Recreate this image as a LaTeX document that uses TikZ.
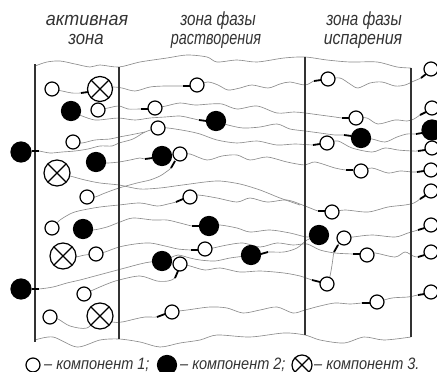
\documentclass[tikz,border=0pt]{standalone}
\usepackage{fontspec}
\setmainfont{Liberation Sans}
\begin{document}
\begin{tikzpicture}[x=1pt,y=-1pt,
  traj/.style={draw=black!45, line width=0.65pt},
  wall/.style={draw=black!80, line width=1.2pt},
  circ/.style={draw=black, line width=1.2pt},
  tick/.style={draw=black, line width=1.8pt},
  lbl/.style={font=\fontsize{19}{21}\selectfont\itshape, text=black!80, xscale=0.8, inner sep=0pt, anchor=base},
  lgd/.style={font=\fontsize{16.5}{18}\selectfont\itshape, text=black!80, xscale=0.88, inner sep=0pt, anchor=base west}]
\useasboundingbox (0,0) rectangle (437,372);

% boundaries
\draw[traj] plot[smooth] coordinates {(35,66) (47,62) (60,61) (75,64) (90,67) (100,65) (119,67) (140,62) (167,58) (187,55) (207,57) (217,62) (237,60) (257,62) (284,58) (305,57) (327,60) (350,62) (377,62) (397,67) (411,68)};
\draw[traj] plot[smooth] coordinates {(35,340) (53,337) (77,347) (100,340) (119,339) (140,342) (160,347) (180,343) (200,340) (217,335) (250,337) (284,333) (305,335) (320,340) (344,343) (364,337) (384,340) (411,337)};

% trajectories
\draw[traj] plot[smooth] coordinates {(52,89) (62,91) (72,93) (81,93) (88,92) (100,89) (113,87) (122,88) (135,91) (150,87) (165,86) (183,86) (190,86) (197,85) (208,82) (218,85) (228,90) (240,88) (252,85) (268,88) (280,84) (290,82) (305,85) (314,81) (321,80) (328,79) (340,78) (350,84) (358,88) (370,83) (382,82) (395,86) (405,85) (414,81) (421,78) (426,74) (431,69)};
\draw[traj] plot[smooth] coordinates {(98,110) (108,108) (119,106) (128,109) (141,109) (148,109) (155,108) (166,106) (180,103) (195,105) (210,104) (222,104) (237,109) (257,106) (277,113) (294,112) (305,113) (320,115) (335,117) (342,118) (349,118) (356,118) (367,118) (378,124) (395,120) (407,121) (414,119) (420,115) (426,112) (432,108)};
\draw[traj] plot[smooth] coordinates {(71,111) (82,116) (95,120) (108,119) (119,118) (135,120) (150,118) (165,117) (180,116) (190,118) (199,120) (206,121) (216,121) (228,125) (243,128) (260,127) (277,124) (290,129) (305,131) (320,133) (335,135) (344,135) (351,136) (361,138) (372,139) (385,142) (397,137) (407,134) (416,134) (422,133) (432,130)};
\draw[traj] plot[smooth] coordinates {(21,152) (32,151) (39,151) (50,153) (62,152) (75,151) (88,149) (100,146) (112,146) (119,143) (133,139) (145,132) (158,128) (168,128) (187,131) (200,134) (217,140) (237,143) (257,141) (277,145) (295,144) (313,145) (320,144) (327,143) (338,141) (352,148) (372,152) (385,148) (398,150) (412,151) (418,151) (425,150) (432,148)};
\draw[traj] plot[smooth] coordinates {(73,142) (82,143) (95,140) (110,139) (119,137) (130,135) (145,132)};
\draw[traj] plot[smooth] coordinates {(96,162) (107,163) (119,162) (130,160) (140,158) (145,159) (152,158) (162,156) (180,154) (190,154) (207,160) (222,156) (237,155) (250,160) (267,157) (287,162) (305,165) (315,162) (335,168) (346,170) (353,170) (361,171) (372,168) (388,173) (400,171) (412,172) (417,172) (424,171) (431,170)};
\draw[traj] plot[smooth] coordinates {(87,197) (95,197) (105,193) (119,188) (137,183) (150,180) (160,176) (166,172) (171,168) (175,161)};
\draw[traj] plot[smooth] coordinates {(57,173) (70,176) (85,180) (100,183) (119,185) (140,189) (160,188) (175,186) (190,184) (205,182) (220,181) (240,184) (260,190) (280,198) (300,205)};
\draw[traj] plot[smooth] coordinates {(52,228) (60,220) (72,213) (83,210) (100,207) (119,205) (140,203) (157,206) (168,204) (176,202) (183,199) (190,197) (198,195) (217,198) (237,202) (250,198) (267,202) (287,200) (305,206) (318,211) (325,211) (332,212) (345,210) (368,212) (388,207) (405,205) (414,203) (420,199) (425.5,195.5) (431,191)};
\draw[traj] plot[smooth] coordinates {(83,229) (93,230) (107,227) (120,222) (133,218) (153,220) (167,220) (180,223) (192,226) (199.5,226) (209,226) (220,225) (237,228) (250,232) (270,230) (290,233) (307,237) (319,235)};
\draw[traj] plot[smooth] coordinates {(63,256) (75,257) (85,255) (96,254) (105,252) (119,247) (135,244) (150,243) (165,246) (178,249) (191,250) (198,250) (205,249) (213,248) (227,245) (243,243) (260,247) (277,243) (293,245) (307,244) (320,250) (335,253) (353,254) (360,254) (367,255) (375,253) (395,257) (405,252) (413,256) (418,257) (424.5,255) (431,252)};
\draw[traj] plot[smooth] coordinates {(21,289) (32,289) (39,289) (53,287) (67,283) (80,280) (95,276) (110,272) (125,268) (140,264) (150,262) (162,261) (170,258) (178,255) (190,258) (200,260) (215,261) (230,258) (245,256) (251,255) (261,254) (268,252) (284,252) (297,248) (307,240) (319,235)};
\draw[traj] plot[smooth] coordinates {(84,294) (93,290) (107,284) (119,280) (140,276) (157,281) (168,281) (175,278) (178,271) (180,264) (190,266) (205,270) (220,268) (240,272) (260,271) (284,273) (300,276) (312,280) (320,282) (327,284)};
\draw[traj] plot[smooth] coordinates {(327,284) (330,276) (332,265) (333,258) (334,252) (338,245) (344,238) (353,237) (372,235) (395,237) (408,233) (418,230) (424.5,228) (431,225)};
\draw[traj] plot[smooth] coordinates {(50,317) (58,319) (70,326) (87,328) (100,316) (112,322) (122,322) (135,319) (145,317) (157,317) (165,314) (172,312) (187,310) (210,307) (227,308) (243,313) (260,310) (277,307) (293,313) (305,310) (320,306) (335,303) (350,304) (362,303) (370,303) (377,302) (392,298) (408,297) (418,295) (424.5,294) (431,292)};

% walls
\draw[wall] (35,64) -- (35,342);
\draw[wall] (119,67) -- (119,339);
\draw[wall] (305,57) -- (305,335);
\draw[wall] (411,68) -- (411,337);

% open particles (component 1)
\foreach \x/\y in {52/89, 98/110, 73/142, 87/197, 52/228, 96/254, 84/294, 50/317,
  197/85, 155/108, 158/128, 180/154, 190/197, 205/249, 180/264, 172/312,
  328/79, 356/118, 327/143, 361/171, 332/212, 344/238, 367/255, 327/284, 377/302,
  431/69, 432/108, 432/148, 431/170, 431/191, 431/225, 431/252, 431/292, 33/365}
  \draw[circ, fill=white] (\x,\y) circle (7pt);
% black particles (component 2)
\foreach \x/\y in {71/111, 96/162, 83/229, 216/121, 162/156, 209/226, 162/261, 251/255, 361/138, 319/235, 167/365}
  \draw[circ, fill=black] (\x,\y) circle (9.5pt);
\foreach \x/\y in {21/152, 21/289, 432/130}
  \draw[circ, fill=black] (\x,\y) circle (10pt);
% crossed particles (component 3)
\foreach \x/\y/\r in {100/89/12.5, 57/173/13, 63/256/13, 100/316/13, 302/365/10}{
  \draw[circ, fill=white] (\x,\y) circle (\r pt);
  \draw[circ] (\x,\y) +(45:\r pt) -- +(225:\r pt);
  \draw[circ] (\x,\y) +(135:\r pt) -- +(-45:\r pt);
}

% ticks
\draw[tick] (81,93) -- (88,92);
\draw[tick] (183,86) -- (190,86);
\draw[tick] (314,81) -- (321,80);
\draw[tick] (421,78) -- (426,74);
\draw[tick] (141,109) -- (148,109);
\draw[tick] (342,118) -- (349,118);
\draw[tick] (420,115) -- (426,112);
\draw[tick] (199,120) -- (206.5,121);
\draw[tick] (344,135) -- (351.5,136);
\draw[tick] (416,134) -- (422,133);
\draw[tick] (32,151) -- (39,151);
\draw[tick] (313,145) -- (320,144);
\draw[tick] (418,151) -- (425,150);
\draw[tick] (145,159) -- (152.5,158);
\draw[tick] (346,170) -- (353,170);
\draw[tick] (417,172) -- (424,171);
\draw[tick] (171,168) -- (175,161);
\draw[tick] (176,202) -- (183,199);
\draw[tick] (318,211) -- (325,211);
\draw[tick] (420,199) -- (425.5,195.5);
\draw[tick] (192,226) -- (199.5,226);
\draw[tick] (191,250) -- (198,250);
\draw[tick] (353,254) -- (360,254);
\draw[tick] (418,257) -- (424.5,255);
\draw[tick] (32,289) -- (39,289);
\draw[tick] (261,254) -- (268,252);
\draw[tick] (175,278) -- (178,271);
\draw[tick] (312,280) -- (320,282);
\draw[tick] (334,252) -- (338,245);
\draw[tick] (418,230) -- (424.5,228);
\draw[tick] (157,317) -- (165,314);
\draw[tick] (362,303) -- (370,303);
\draw[tick] (418,295) -- (424.5,294);

% headings
\node[lbl, xscale=1.18] (h1) at (87,25) {активная};
\node[lbl, xscale=1.1] (h2) at (86,45) {зона};
\node[lbl] (h3) at (218,25) {зона фазы};
\node[lbl, xscale=0.95] (h4) at (216,44) {растворения};
\node[lbl] (h5) at (364,25) {зона фазы};
\node[lbl, xscale=1.05] (h6) at (363,44) {испарения};

% legend
\node[lgd] (g1) at (44,369) {– компонент 1;};
\node[lgd] (g2) at (180,369) {– компонент 2;};
\node[lgd] (g3) at (314,369) {– компонент 3.};
\end{tikzpicture}
\end{document}
